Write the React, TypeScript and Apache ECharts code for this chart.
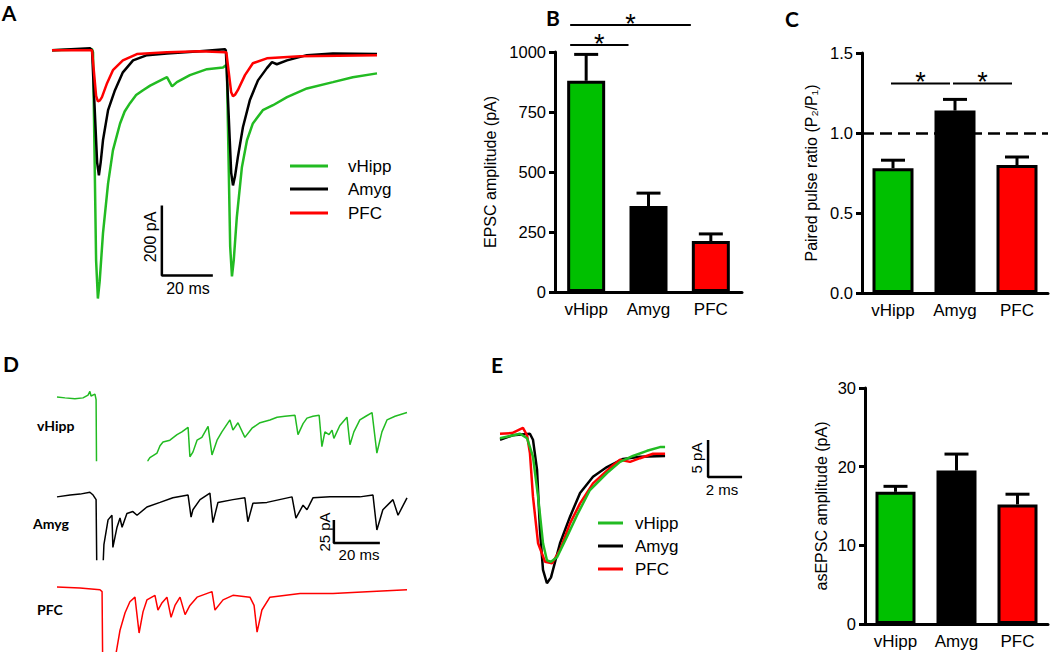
import React, { useEffect, useRef } from "react";
import * as echarts from "echarts";

// ---------- data ----------
const categories = ["vHipp", "Amyg", "PFC"];

// Panel B: EPSC amplitude (pA)
const bMeans = [880, 358, 212];
const bSems = [110, 54, 30];
const bSig = [
  [0, 2, 1112],
  [0, 1, 1029],
];

// Panel C: paired pulse ratio
const cMeans = [0.78, 1.14, 0.8];
const cSems = [0.05, 0.07, 0.05];
const cSig = [
  [0, 1, 1.31],
  [1, 2, 1.31],
];
const cReference = 1.0;

// Panel E (bars): asEPSC amplitude (pA)
const eMeans = [16.8, 19.5, 15.2];
const eSems = [0.7, 2.1, 1.3];

// Panel A traces: [ms, pA]
const aVhipp = [[0,0],[15.7,3],[16.1,-6],[17.3,-600],[18.0,-709],[18.7,-660],[20.0,-523],[22.0,-380],[23.9,-286],[26.7,-209],[28.5,-175],[30.6,-151],[33,-128],[35.7,-114],[38.5,-101],[41.2,-91],[45.1,-77],[47.1,-103],[49.0,-91],[54.1,-71],[60.8,-54],[67.1,-49],[68.2,-43],[68.6,-50],[69.9,-560],[70.6,-646],[71.3,-600],[72.5,-477],[74.5,-334],[76.5,-257],[78.8,-209],[82.7,-171],[86.7,-157],[92.2,-134],[100,-109],[110.2,-91],[118,-77],[127.5,-66]];
const aAmyg = [[0,0],[14.9,6],[15.7,0],[17.7,-320],[18.4,-357],[19.1,-320],[20,-257],[22,-171],[24.7,-114],[27.8,-63],[31.8,-29],[37.3,-14],[45.1,-9],[58,-3],[67.8,3],[68.2,0],[70.3,-350],[71,-386],[71.8,-360],[72.9,-306],[74.9,-220],[77.6,-143],[80.8,-86],[84.3,-51],[86.3,-34],[88.2,-40],[92.2,-29],[100,-14],[110.2,-9],[127.5,-11]];
const aPfc = [[0,0],[15.7,0],[17.3,-130],[18,-146],[18.8,-143],[19.6,-134],[21.6,-94],[23.9,-57],[27.8,-29],[33.3,-11],[45.1,-6],[58,-3],[67.8,-6],[68.4,-6],[70.3,-120],[71,-131],[71.8,-127],[72.9,-114],[75.7,-71],[78.8,-37],[84.3,-23],[97.3,-17],[127.5,-14]];
const aScale = { ms: 20, pA: 200, atMs: 43.1, atPA: -443 };

// Panel D traces: [ms, pA]
const dVhipp = [[0,-1],[3.5,-2],[7.8,-3],[11.3,-2],[13.5,1],[14.3,5],[14.8,0],[16.5,2],[17,-4],[17.2,-80],[18.7,-135],[38.3,-91],[39.6,-70],[40.4,-67],[43.5,-62],[44.8,-54],[46.1,-50],[49.1,-48],[52.2,-42],[54.3,-39],[57,-34],[57.8,-66],[59.1,-61],[60.9,-48],[63,-45],[65.7,-33],[67.4,-64],[69.6,-48],[71.7,-39],[75.2,-26],[76.5,-37],[78.7,-29],[81.7,-45],[84.8,-35],[88.3,-29],[92.6,-26],[95.7,-23],[99.1,-22],[103.5,-21],[104.8,-42],[107,-30],[108.7,-24],[111.3,-22],[114,-21],[115.2,-55],[116.5,-39],[118.3,-42],[119.6,-37],[120.4,-46],[123,-32],[126.1,-23],[127.4,-53],[129.1,-39],[131.7,-26],[134.3,-22],[137,-18],[139.1,-62],[141.3,-39],[143.5,-26],[147,-22],[152.2,-18]];
const dAmyg = [[0,-2],[5.7,0],[10,1],[14.3,3],[15.7,0],[17,-5],[17.4,-103],[19.6,-103],[20.4,-54],[22.2,-27],[23.9,-22],[24.3,-57],[26.1,-35],[27.4,-25],[28.3,-35],[30.4,-20],[33,-18],[34.8,-22],[39.1,-13],[44.8,-8],[50.4,-3],[57,0],[58.3,-24],[59.1,-16],[62.2,-5],[66.5,2],[67.8,-30],[70,-8],[76.5,-5],[81.7,-3],[83,-29],[85.2,-9],[91.3,-8],[102.2,-2],[103.9,-25],[107,-11],[108.7,-16],[111.3,-3],[118.7,-2],[131.7,-2],[137.4,0],[139.1,-38],[141.7,-16],[146.1,-5],[148.3,-22],[152.2,-3]];
const dPfc = [[0,0],[10,-1],[18.7,-3],[19.6,-5],[20,-123],[24.3,-123],[25.2,-79],[27.4,-47],[29.6,-28],[31.7,-16],[33.9,-11],[35.7,-50],[37.4,-27],[39.1,-14],[42.6,-9],[43.9,-25],[45.7,-17],[47.8,-11],[49.6,-33],[51.3,-20],[53.5,-11],[55.7,-30],[57.8,-20],[60.9,-11],[67.4,-5],[68.7,-25],[72.2,-14],[76.5,-9],[83.9,-11],[85.7,-20],[87,-49],[89.1,-25],[92.6,-11],[105.7,-7],[120,-7],[134.8,-5],[152.2,-3]];
const dScale = { ms: 20, pA: 25, atMs: 120.4, atPA: -27.2 };

// Panel E traces: [ms, pA]
const eAmyg = [[0,-0.5],[0.76,0.1],[1.76,0.3],[1.94,-0.5],[2.18,-4.6],[2.35,-12.7],[2.53,-18.1],[2.76,-19.9],[3.0,-19.1],[3.53,-14.5],[4.12,-10.9],[4.71,-7.7],[5.47,-5.5],[6.29,-4.2],[7.24,-3.1],[8.24,-2.8],[9.71,-2.7]];
const eVhipp = [[0,-0.3],[0.59,0],[1.18,0.3],[1.59,-0.3],[1.94,-2.8],[2.24,-8.2],[2.53,-14.5],[2.76,-16.8],[3.0,-17.0],[3.35,-16.4],[3.94,-13.6],[4.53,-10.7],[5.29,-7.3],[6.29,-5.0],[7.06,-3.5],[7.82,-2.7],[8.65,-2.0],[9.41,-1.5],[9.71,-1.5]];
const ePfc = [[0,0.3],[0.71,0.4],[1.35,1.1],[1.59,0.1],[1.76,-2.3],[1.94,-8.2],[2.24,-14.5],[2.65,-17.0],[3.06,-17.2],[3.53,-15.4],[4.12,-11.8],[4.71,-9.1],[5.47,-6.4],[6.47,-4.3],[7.06,-3.2],[7.65,-3.5],[8.24,-3.0],[9.0,-2.4],[9.71,-2.4]];
const eScale = { ms: 2, pA: 5, atMs: 12.24, atPA: -0.54 };

// ---------- styles ----------
const GREEN_BAR = "#00c000";
const GREEN_LINE = "#22bb22";
const RED = "#ff0000";
const BLACK = "#000000";
const barColors = [GREEN_BAR, BLACK, RED];
const FONT = "Liberation Sans";
const BOLD_FONT = "Lato";

function catAxis(gridIndex: number) {
  return {
    type: "category",
    gridIndex,
    data: categories,
    axisLine: { lineStyle: { color: "#000", width: 3 } },
    axisTick: { alignWithLabel: true, length: 7, lineStyle: { color: "#000", width: 3 } },
    axisLabel: { color: "#000", fontSize: 17, fontFamily: FONT, margin: 9 },
  };
}

function valAxis(gridIndex: number, min: number, max: number, interval: number, name: string, nameGap: number, fmt?: (v: number) => string) {
  return {
    type: "value",
    gridIndex,
    min,
    max,
    interval,
    name,
    nameLocation: "middle",
    nameGap,
    nameTextStyle: { color: "#000", fontSize: 16, fontFamily: FONT },
    axisLine: { show: true, lineStyle: { color: "#000", width: 3 } },
    axisTick: { show: true, length: 6, lineStyle: { color: "#000", width: 3 } },
    axisLabel: { color: "#000", fontSize: 16.5, fontFamily: FONT, margin: 9, formatter: fmt || ((v: number) => String(v)) },
    splitLine: { show: false },
  };
}

function hiddenAxis(type: "x" | "y", gridIndex: number, min: number, max: number) {
  return { type: "value", gridIndex, min, max, show: false, splitLine: { show: false } };
}

function barSeries(idx: number, means: number[], barWidth: number, extra: any = {}) {
  return {
    type: "bar",
    xAxisIndex: idx,
    yAxisIndex: idx,
    barWidth,
    z: 3,
    data: means.map((v, i) => ({ value: v, itemStyle: { color: barColors[i], borderColor: "#000", borderWidth: 3 } })),
    ...extra,
  };
}

function errSeries(idx: number, means: number[], sems: number[]) {
  return {
    type: "custom",
    xAxisIndex: idx,
    yAxisIndex: idx,
    z: 2,
    data: means.map((m, i) => [i, m, sems[i]]),
    renderItem: (params: any, api: any) => {
      const i = api.value(0);
      const m = api.value(1);
      const e = api.value(2);
      const base = api.coord([i, m]);
      const top = api.coord([i, m + e]);
      return {
        type: "group",
        children: [
          { type: "line", shape: { x1: base[0], y1: base[1], x2: top[0], y2: top[1] }, style: { stroke: "#000", lineWidth: 3 } },
          { type: "line", shape: { x1: top[0] - 12, y1: top[1], x2: top[0] + 12, y2: top[1] }, style: { stroke: "#000", lineWidth: 3 } },
        ],
      };
    },
  };
}

function sigSeries(idx: number, sig: number[][], offStart: number, offEnd: number) {
  return {
    type: "custom",
    xAxisIndex: idx,
    yAxisIndex: idx,
    z: 4,
    clip: false,
    data: sig,
    renderItem: (params: any, api: any) => {
      const a = api.coord([api.value(0), api.value(2)]);
      const b = api.coord([api.value(1), api.value(2)]);
      const x1 = a[0] + offStart;
      const x2 = b[0] + offEnd;
      return {
        type: "group",
        children: [
          { type: "line", shape: { x1, y1: a[1], x2, y2: a[1] }, style: { stroke: "#000", lineWidth: 2 } },
          { type: "text", style: { text: "*", x: (x1 + x2) / 2, y: a[1] - 1, align: "center", verticalAlign: "middle", font: `27px '${FONT}'`, fill: "#000" } },
        ],
      };
    },
  };
}

function traceSeries(idx: number, data: number[][], color: string, width: number) {
  return {
    type: "line",
    xAxisIndex: idx,
    yAxisIndex: idx,
    data,
    showSymbol: false,
    symbol: "none",
    clip: true,
    lineStyle: { color, width },
    z: 2,
  };
}

function scaleSeries(idx: number, s: { ms: number; pA: number; atMs: number; atPA: number }, width: number) {
  return {
    type: "line",
    xAxisIndex: idx,
    yAxisIndex: idx,
    data: [
      [s.atMs, s.atPA],
      [s.atMs, s.atPA - s.pA],
      [s.atMs + s.ms, s.atPA - s.pA],
    ],
    showSymbol: false,
    symbol: "none",
    clip: false,
    lineStyle: { color: "#000", width },
  };
}

function txt(text: string, x: number, y: number, opts: any = {}) {
  return {
    type: "text",
    x,
    y,
    rotation: opts.rotation || 0,
    style: {
      text,
      x: 0,
      y: 0,
      align: opts.align || "center",
      verticalAlign: "middle",
      font: `${opts.bold ? "bold " : ""}${opts.size || 16}px '${opts.family || FONT}'`,
      fill: "#000",
    },
  };
}

function legendGraphic(x1: number, x2: number, tx: number, ys: number[], size: number) {
  const cols = [GREEN_LINE, BLACK, RED];
  const out: any[] = [];
  categories.forEach((c, i) => {
    out.push({ type: "line", shape: { x1, y1: ys[i], x2, y2: ys[i] }, style: { stroke: cols[i], lineWidth: 3 } });
    out.push(txt(c, tx, ys[i], { align: "left", size }));
  });
  return out;
}

export default function App() {
  const ref = useRef<HTMLDivElement>(null);
  useEffect(() => {
    if (!ref.current) return;
    const chart = echarts.init(ref.current, undefined, { renderer: "svg" });
    const option: any = {
      animation: false,
      backgroundColor: "#fff",
      grid: [
        { left: 52, top: 38, width: 325, height: 270 }, // 0 A traces
        { left: 555, top: 52, width: 187, height: 240 }, // 1 B
        { left: 862, top: 53, width: 186, height: 240 }, // 2 C
        { left: 57, top: 385, width: 350, height: 75.4 }, // 3 D vHipp
        { left: 57, top: 484, width: 350, height: 75.4 }, // 4 D Amyg
        { left: 57, top: 576, width: 350, height: 75.4 }, // 5 D PFC
        { left: 500, top: 421.2, width: 246.5, height: 170.2 }, // 6 E traces
        { left: 865, top: 388, width: 183, height: 236 }, // 7 E bars
      ],
      xAxis: [
        hiddenAxis("x", 0, 0, 127.5),
        catAxis(1),
        catAxis(2),
        hiddenAxis("x", 3, 0, 152.2),
        hiddenAxis("x", 4, 0, 152.2),
        hiddenAxis("x", 5, 0, 152.2),
        hiddenAxis("x", 6, 0, 14.5),
        catAxis(7),
      ],
      yAxis: [
        hiddenAxis("y", 0, -736, 35),
        valAxis(1, 0, 1000, 250, "EPSC amplitude (pA)", 57),
        valAxis(2, 0, 1.5, 0.5, "Paired pulse ratio (P\u2082/P\u2081)", 43, (v: number) => v.toFixed(1)),
        hiddenAxis("y", 3, -70, 12),
        hiddenAxis("y", 4, -70, 12),
        hiddenAxis("y", 5, -70, 12),
        hiddenAxis("y", 6, -21, 2),
        valAxis(7, 0, 30, 10, "asEPSC amplitude (pA)", 36),
      ],
      series: [
        // A
        traceSeries(0, aVhipp, GREEN_LINE, 2.5),
        traceSeries(0, aAmyg, BLACK, 2.5),
        traceSeries(0, aPfc, RED, 2.5),
        scaleSeries(0, aScale, 2.5),
        // B
        errSeries(1, bMeans, bSems),
        barSeries(1, bMeans, 38),
        sigSeries(1, bSig, -16, -20),
        // C
        errSeries(2, cMeans, cSems),
        barSeries(2, cMeans, 41, {
          markLine: {
            silent: true,
            symbol: "none",
            label: { show: false },
            lineStyle: { type: [12, 6], color: "#000", width: 2.5 },
            data: [{ yAxis: cReference }],
          },
        }),
        sigSeries(2, cSig, -2, -5),
        // D
        traceSeries(3, dVhipp, GREEN_LINE, 1.5),
        traceSeries(4, dAmyg, BLACK, 1.5),
        traceSeries(5, dPfc, RED, 1.5),
        scaleSeries(4, dScale, 2.5),
        // E traces
        traceSeries(6, eAmyg, BLACK, 2.5),
        traceSeries(6, ePfc, RED, 2.5),
        traceSeries(6, eVhipp, GREEN_LINE, 2.5),
        scaleSeries(6, eScale, 2.5),
        // E bars
        errSeries(7, eMeans, eSems),
        barSeries(7, eMeans, 40),
      ],
      graphic: [
        txt("A", 9, 12, { bold: true, size: 21, family: BOLD_FONT }),
        txt("B", 553, 17, { bold: true, size: 21, family: BOLD_FONT }),
        txt("C", 792, 18, { bold: true, size: 21, family: BOLD_FONT }),
        txt("D", 11, 363, { bold: true, size: 21, family: BOLD_FONT }),
        txt("E", 497, 364, { bold: true, size: 21, family: BOLD_FONT }),
        txt("200 pA", 150, 237, { rotation: Math.PI / 2, size: 16 }),
        txt("20 ms", 188, 288, { size: 16 }),
        ...legendGraphic(290, 328, 348, [166, 189, 213], 17),
        txt("vHipp", 37, 425, { align: "left", bold: true, size: 14, family: BOLD_FONT }),
        txt("Amyg", 33, 523, { align: "left", bold: true, size: 14, family: BOLD_FONT }),
        txt("PFC", 37, 609, { align: "left", bold: true, size: 14, family: BOLD_FONT }),
        txt("25 pA", 324, 532, { rotation: Math.PI / 2, size: 15 }),
        txt("20 ms", 359, 554, { size: 15 }),
        txt("5 pA", 696, 458, { rotation: Math.PI / 2, size: 15 }),
        txt("2 ms", 722, 489, { size: 15 }),
        ...legendGraphic(598, 623, 635, [523, 546, 569], 17),
      ],
    };
    chart.setOption(option);
    return () => chart.dispose();
  }, []);
  return <div ref={ref} style={{ position: "fixed", left: 0, top: 0, width: 1050, height: 652 }} />;
}
